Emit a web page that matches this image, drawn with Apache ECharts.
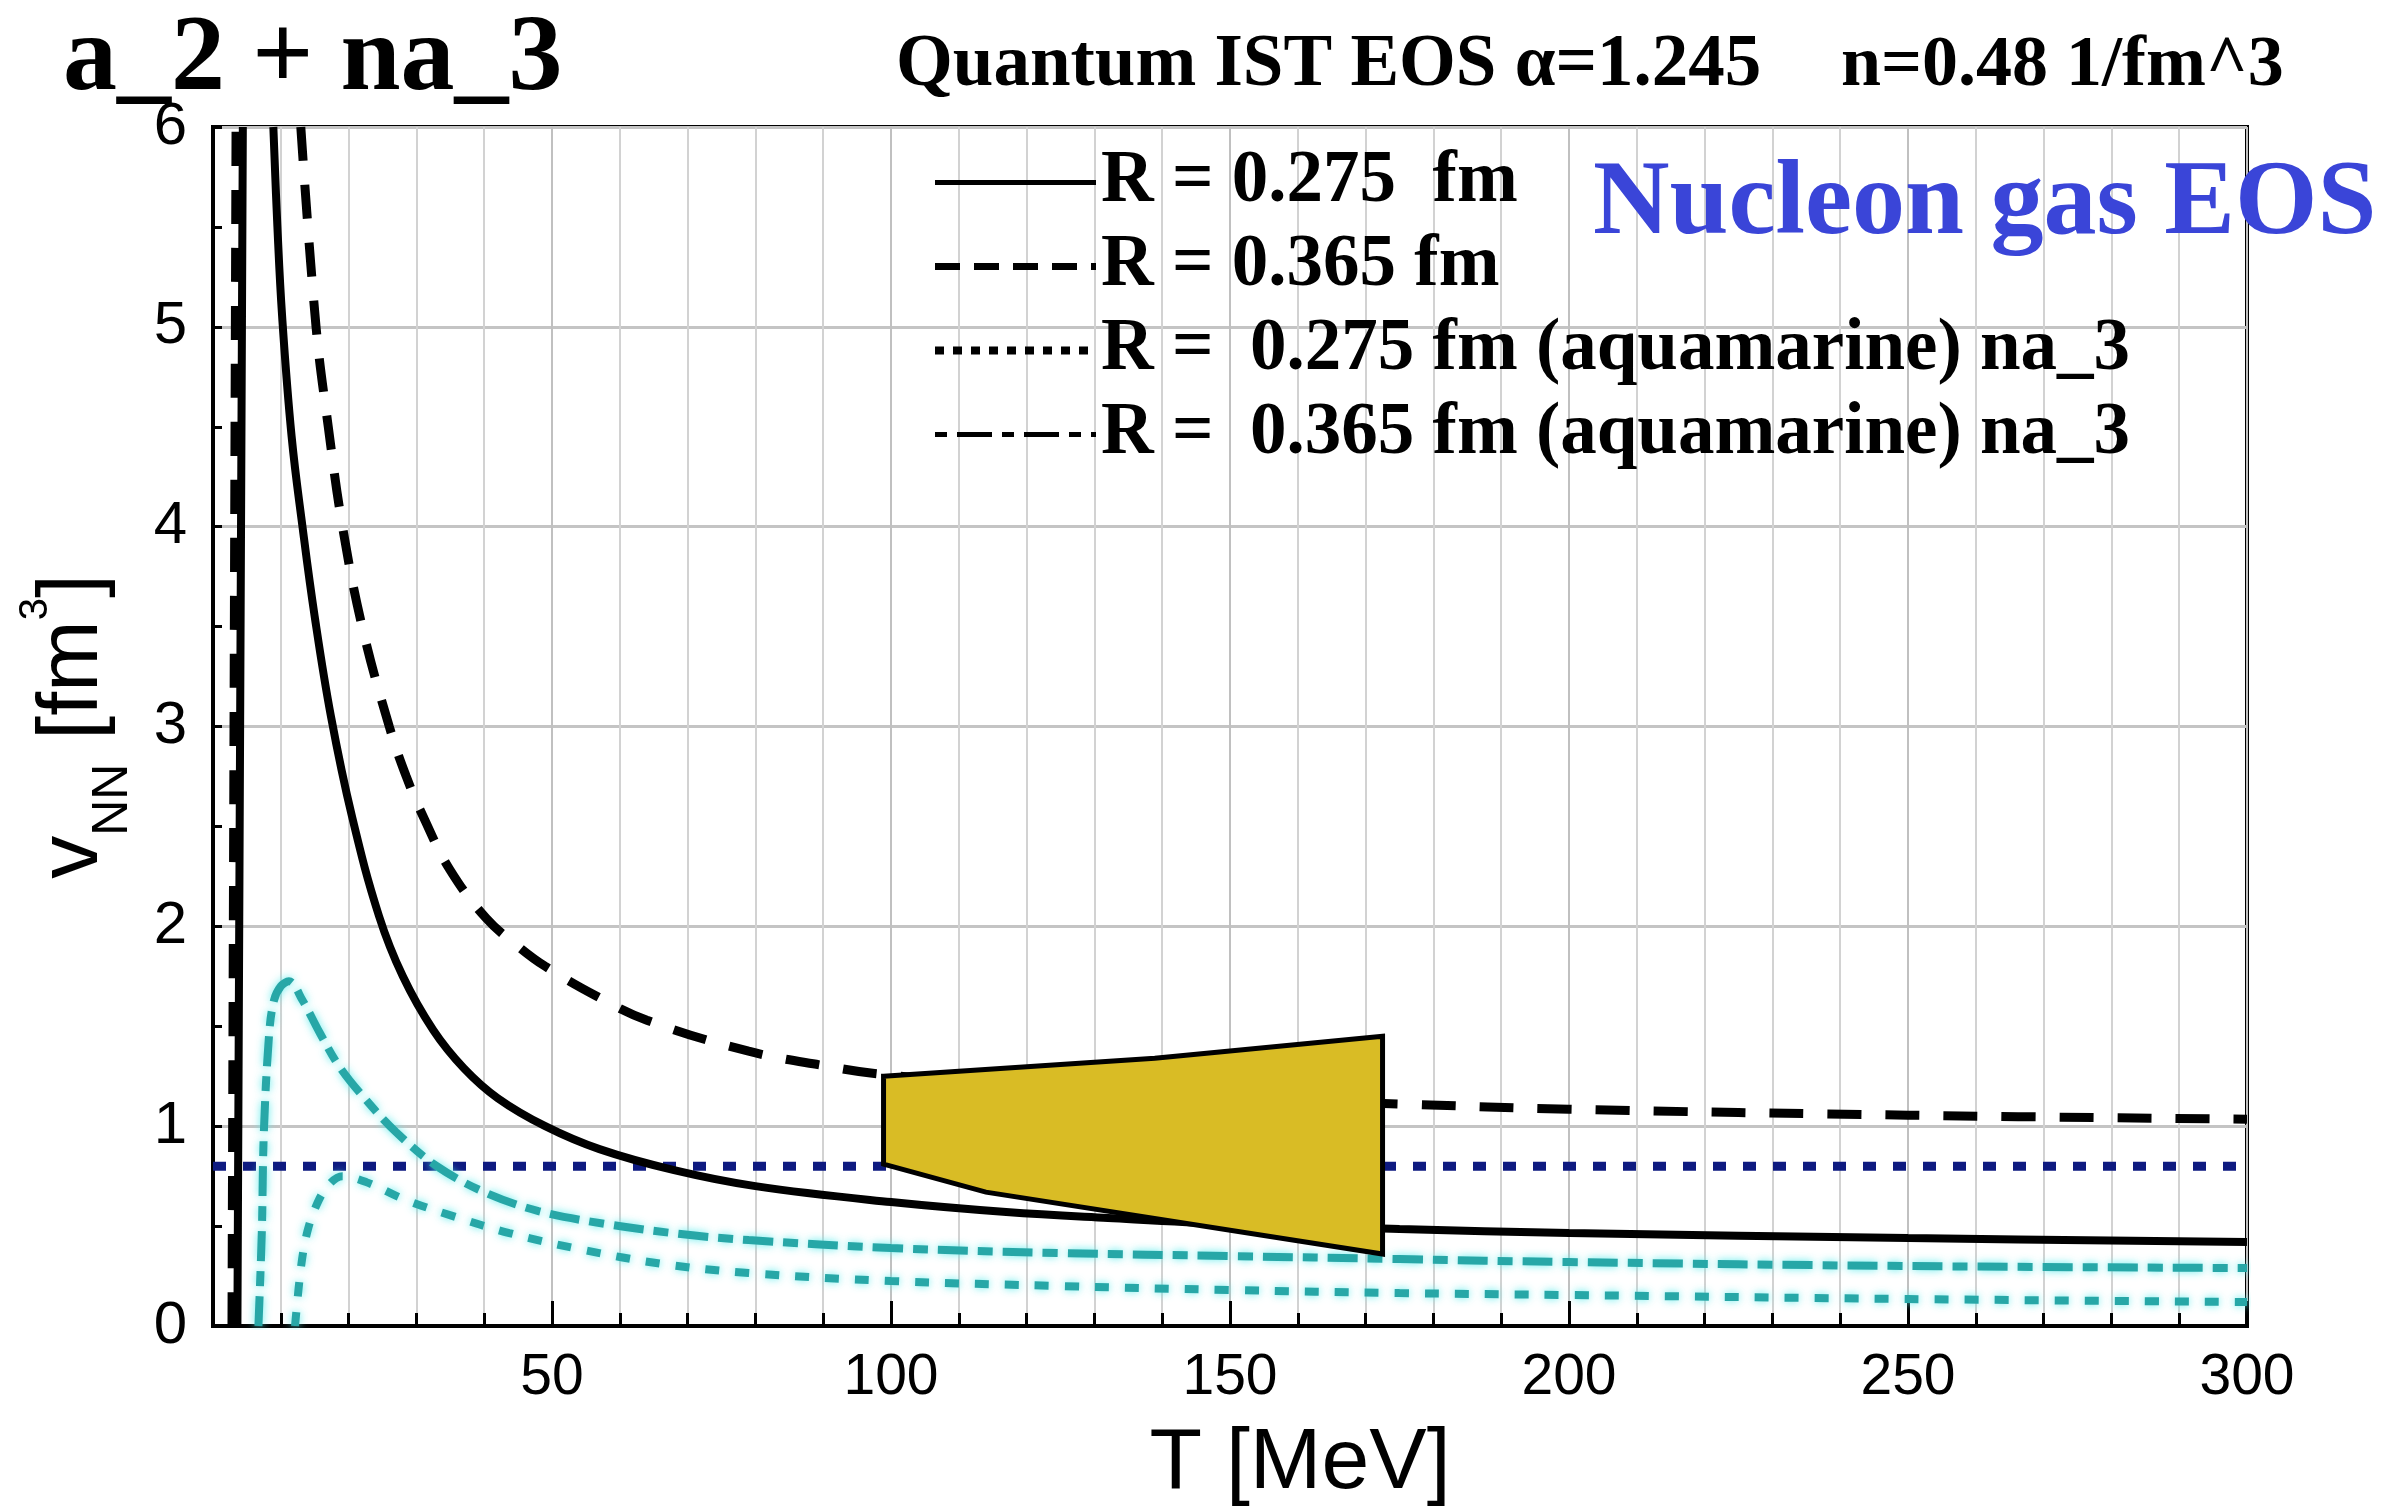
<!DOCTYPE html>
<html>
<head>
<meta charset="utf-8">
<script src="https://cdn.jsdelivr.net/npm/echarts@6/dist/echarts.min.js"></script>
<style>html,body{margin:0;padding:0;background:#fff;}#c{width:2405px;height:1512px;}</style>
</head>
<body>
<div id="c"></div>
<script>
// ---- data ----
var seriesNames = [
  'R = 0.275  fm',
  'R = 0.365 fm',
  'R =  0.275 fm (aquamarine) na_3',
  'R =  0.365 fm (aquamarine) na_3'
];
// R = 0.275 fm (solid black); '-' breaks the line
var solidT = [3.6, 4.4, '-', 8.9, 9.5, 10.2, 11.6, 13.2, 15.0, 17.4, 20.5, 24.5, 28, 32.5, 37, 42, 49, 57, 68, 80, 100, 117, 132, 150, 175, 200, 250, 300];
var solidV = [0, 6, '-', 6, 5.5, 5.05, 4.45, 4.0, 3.55, 3.05, 2.55, 2.05, 1.75, 1.48, 1.29, 1.14, 1.0, 0.885, 0.78, 0.70, 0.62, 0.57, 0.54, 0.51, 0.485, 0.465, 0.44, 0.42];
// R = 0.365 fm (dashed black)
var dashT = [2.8, 3.4, '-', 12.95, 15.2, 17, 19.1, 22, 26, 28.5, 31.4, 35, 40.3, 45, 49, 56.6, 64, 79, 90.6, 98.5, 125, 150, 176, 200, 250, 300];
var dashV = [0, 6, '-', 6, 5, 4.5, 4, 3.5, 3, 2.75, 2.52, 2.28, 2.04, 1.9, 1.8, 1.65, 1.53, 1.375, 1.30, 1.26, 1.18, 1.14, 1.11, 1.085, 1.055, 1.035];
// R = 0.275 fm aquamarine (dotted cyan)
var cyanLowT = [12.1, 13.0, 13.9, 15.2, 16.9, 19.1, 22.6, 28.5, 35.4, 43.7, 54, 66.4, 79, 100, 125, 150, 175, 200, 250, 300];
var cyanLowV = [0, 0.30, 0.47, 0.60, 0.70, 0.75, 0.72, 0.63, 0.55, 0.465, 0.385, 0.31, 0.265, 0.225, 0.20, 0.18, 0.165, 0.155, 0.135, 0.12];
// R = 0.365 fm aquamarine (dash-dot cyan)
var cyanUpT = [6.7, 7.2, 7.5, 8.3, 9.0, 10, 11.2, 13.2, 15.7, 18.6, 22.6, 27, 33, 40, 48, 58, 69, 79, 100, 125, 150, 175, 200, 250, 300];
var cyanUpV = [0, 0.47, 0.97, 1.47, 1.63, 1.70, 1.725, 1.63, 1.47, 1.30, 1.13, 0.97, 0.80, 0.67, 0.575, 0.51, 0.46, 0.43, 0.39, 0.365, 0.35, 0.335, 0.32, 0.30, 0.29];
// horizontal dotted navy reference line
var refT = [0, 300];
var refV = [0.8, 0.8];
// yellow band polygon vertices
var bandT = [98.9, 138.9, 172.5, 172.5, 114, 98.9];
var bandV = [1.25, 1.34, 1.45, 0.36, 0.67, 0.81];

function pairs(xs, ys) { return xs.map(function (x, i) { return [x, ys[i]]; }); }

var chart = echarts.init(document.getElementById('c'), null, {renderer: 'canvas'});
var serif = 'Liberation Serif';
var sans = 'Liberation Sans';
var cyan = '#27a7a7';
var glow = 'rgba(90,235,235,0.9)';
var hideSym = {color: 'rgba(0,0,0,0)', opacity: 0, borderWidth: 0};

var option = {
  animation: false,
  backgroundColor: '#fff',
  title: [
    {text: 'a_2 + na_3', left: 58, top: 2, textStyle: {fontFamily: serif, fontWeight: 'bold', fontSize: 108, color: '#000'}},
    {text: 'Quantum IST EOS \u03b1=1.245', left: 891, top: 25, textStyle: {fontFamily: serif, fontWeight: 'bold', fontSize: 73, color: '#000'}},
    {text: 'n=0.48 1/fm^3', left: 1836, top: 25, textStyle: {fontFamily: serif, fontWeight: 'bold', fontSize: 72, color: '#000'}},
    {text: 'Nucleon gas EOS', left: 1588, top: 148, textStyle: {fontFamily: serif, fontWeight: 'bold', fontSize: 106, color: '#3a45d8'}}
  ],
  legend: {
    orient: 'vertical', left: 926, top: 141,
    itemWidth: 161, itemHeight: 20, itemGap: 11,
    selectedMode: false,
    textStyle: {fontFamily: serif, fontWeight: 'bold', fontSize: 73, lineHeight: 73, color: '#000'},
    data: [
      {name: seriesNames[0], lineStyle: {color: '#000', width: 5, type: 'solid'}, itemStyle: hideSym},
      {name: seriesNames[1], lineStyle: {color: '#000', width: 7, type: [25, 14]}, itemStyle: hideSym},
      {name: seriesNames[2], lineStyle: {color: '#000', width: 8, type: [9, 9]}, itemStyle: hideSym},
      {name: seriesNames[3], lineStyle: {color: '#000', width: 5, type: [12, 10, 35, 10]}, itemStyle: hideSym}
    ]
  },
  grid: {left: 213, right: 158, top: 127, bottom: 185, show: true, borderColor: '#000', borderWidth: 4, backgroundColor: 'rgba(0,0,0,0)'},
  xAxis: {
    type: 'value', min: 0, max: 300, interval: 50,
    name: 'T [MeV]', nameLocation: 'middle', nameGap: 95,
    nameTextStyle: {fontFamily: sans, fontSize: 86, color: '#000', padding: [0, 0, 0, 140]},
    axisLine: {show: true, lineStyle: {color: '#000', width: 4}},
    axisTick: {show: true, inside: true, length: 25, lineStyle: {color: '#000', width: 3}},
    minorTick: {show: true, splitNumber: 5, length: 13, lineStyle: {color: '#000', width: 3}},
    axisLabel: {fontFamily: sans, fontSize: 57, color: '#000', margin: 24, formatter: function (v) { return v === 0 ? '' : String(v); }},
    splitLine: {show: true, lineStyle: {color: '#c0c0c0', width: 2}},
    minorSplitLine: {show: true, lineStyle: {color: '#d2d2d2', width: 2}}
  },
  yAxis: {
    type: 'value', min: 0, max: 6, interval: 1,
    name: 'v{sub|NN} [fm{sup|3}]', nameLocation: 'middle', nameGap: 75,
    nameTextStyle: {
      fontFamily: sans, fontSize: 86, color: '#000',
      rich: {
        sub: {fontFamily: sans, fontSize: 50, color: '#000', verticalAlign: 'bottom', padding: [80, 0, 0, 0]},
        sup: {fontFamily: sans, fontSize: 40, color: '#000', verticalAlign: 'top', padding: [8, 0, 0, 0]}
      }
    },
    axisLine: {show: true, lineStyle: {color: '#000', width: 4}},
    axisTick: {show: true, inside: true, length: 9, lineStyle: {color: '#000', width: 3}},
    minorTick: {show: true, splitNumber: 2, length: 9, lineStyle: {color: '#000', width: 3}},
    axisLabel: {fontFamily: sans, fontSize: 60, color: '#000', margin: 26},
    splitLine: {show: true, lineStyle: {color: '#c4c4c4', width: 3}}
  },
  series: [
    {
      name: 'reference v = 0.8', type: 'line', data: pairs(refT, refV), showSymbol: false, symbol: 'none',
      lineStyle: {color: '#0e1a80', width: 9, type: [13, 17]}, z: 3, silent: true
    },
    {
      name: seriesNames[2], type: 'line', data: pairs(cyanLowT, cyanLowV), symbol: 'none', smooth: 0.35,
      lineStyle: {color: cyan, width: 8, type: [14, 16], shadowColor: glow, shadowBlur: 8}, z: 4
    },
    {
      name: seriesNames[3], type: 'line', data: pairs(cyanUpT, cyanUpV), symbol: 'none', smooth: 0.35,
      lineStyle: {color: cyan, width: 8, type: [30, 10, 15, 10], shadowColor: glow, shadowBlur: 8}, z: 4
    },
    {
      name: seriesNames[0], type: 'line', data: pairs(solidT, solidV), symbol: 'none', smooth: 0.4,
      lineStyle: {color: '#000', width: 8}, z: 5
    },
    {
      name: seriesNames[1], type: 'line', data: pairs(dashT, dashV), symbol: 'none', smooth: 0.4,
      lineStyle: {color: '#000', width: 9, type: [34, 24]}, z: 5
    },
    {
      name: 'band', type: 'custom', coordinateSystem: 'cartesian2d', silent: true, z: 10,
      data: pairs(bandT, bandV),
      renderItem: function (params, api) {
        if (params.dataIndex !== 0) return null;
        var pts = bandT.map(function (t, i) { return api.coord([t, bandV[i]]); });
        return {type: 'polygon', shape: {points: pts},
          style: {fill: '#d9bc25', stroke: '#000', lineWidth: 5, lineJoin: 'miter'}};
      }
    }
  ]
};
chart.setOption(option);
</script>
</body>
</html>
